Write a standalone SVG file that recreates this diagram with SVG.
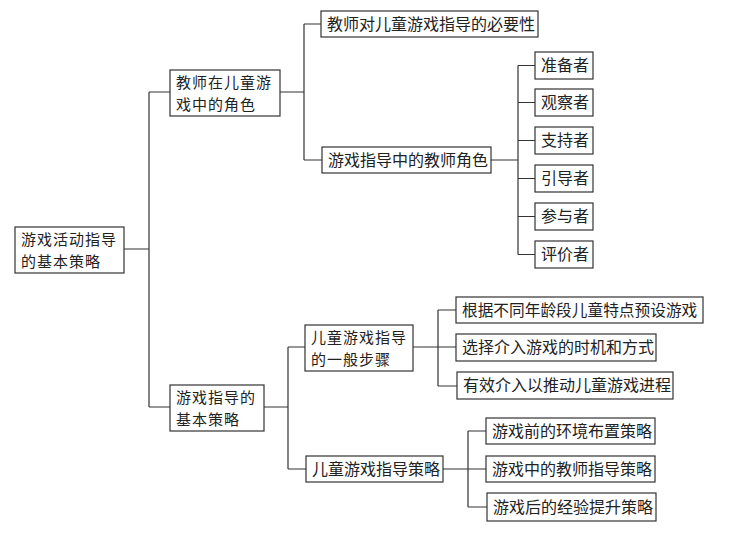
<svg xmlns="http://www.w3.org/2000/svg" width="736" height="537" viewBox="0 0 736 537">
<style>
.b{fill:#fff;stroke:#333;stroke-width:1.2}
.t{font-family:"Noto Sans CJK SC","Noto Sans",sans-serif;font-size:16px;fill:#222}
.m{font-size:15px;letter-spacing:1px}
.c{fill:none;stroke:#333;stroke-width:1.2}
</style>
<rect width="736" height="537" fill="#fff"/>
<g id="connectors">
<path class="c" d="M124,249H149M149,92V407M149,92H170M149,407H170"/>
<path class="c" d="M280,92H304M304,24V160M304,24H321M304,160H322"/>
<path class="c" d="M491,160H518M518,65.5V254.5M518,65.5H535M518,102.5H535M518,140.5H535M518,178.5H535M518,216.5H535M518,254.5H535"/>
<path class="c" d="M264,407H288M288,347V469M288,347H305M288,469H306"/>
<path class="c" d="M413,347H438M438,310V386M438,310H456M438,347H456M438,386H457"/>
<path class="c" d="M443,469H468M468,431V507M468,431H486M468,469H486M468,507H487"/>
</g>
<g id="root"><rect class="b" x="15" y="227" width="109" height="46"/><text class="t m" x="21" y="244.5">游戏活动指导</text><text class="t m" x="21" y="266.5">的基本策略</text></g>
<g id="n1"><rect class="b" x="170" y="70" width="110" height="46"/><text class="t m" x="176" y="87.5">教师在儿童游</text><text class="t m" x="176" y="109.5">戏中的角色</text></g>
<g id="n11"><rect class="b" x="321" y="11" width="217" height="26"/><text class="t" x="327" y="29.5">教师对儿童游戏指导的必要性</text></g>
<g id="n12"><rect class="b" x="322" y="147" width="169" height="26"/><text class="t" x="328" y="165.5">游戏指导中的教师角色</text></g>
<g id="l1"><rect class="b" x="535" y="52" width="58" height="27"/><text class="t" x="541" y="71">准备者</text></g>
<g id="l2"><rect class="b" x="535" y="89" width="58" height="27"/><text class="t" x="541" y="108">观察者</text></g>
<g id="l3"><rect class="b" x="535" y="127" width="58" height="27"/><text class="t" x="541" y="146">支持者</text></g>
<g id="l4"><rect class="b" x="535" y="165" width="58" height="27"/><text class="t" x="541" y="184">引导者</text></g>
<g id="l5"><rect class="b" x="535" y="203" width="58" height="27"/><text class="t" x="541" y="222">参与者</text></g>
<g id="l6"><rect class="b" x="535" y="241" width="58" height="27"/><text class="t" x="541" y="260">评价者</text></g>
<g id="n2"><rect class="b" x="170" y="385" width="94" height="46"/><text class="t m" x="176" y="402.5">游戏指导的</text><text class="t m" x="176" y="424.5">基本策略</text></g>
<g id="n21"><rect class="b" x="305" y="325" width="108" height="46"/><text class="t m" x="311" y="342.5">儿童游戏指导</text><text class="t m" x="311" y="364.5">的一般步骤</text></g>
<g id="n22"><rect class="b" x="306" y="456" width="137" height="26"/><text class="t" x="312" y="474.5">儿童游戏指导策略</text></g>
<g id="s1"><rect class="b" x="456" y="297" width="247" height="26"/><text class="t" x="462" y="315.5" style="font-size:15.7px">根据不同年龄段儿童特点预设游戏</text></g>
<g id="s2"><rect class="b" x="456" y="334" width="200" height="27"/><text class="t" x="462" y="353">选择介入游戏的时机和方式</text></g>
<g id="s3"><rect class="b" x="457" y="372" width="216" height="27"/><text class="t" x="463" y="391">有效介入以推动儿童游戏进程</text></g>
<g id="p1"><rect class="b" x="486" y="418" width="169" height="26"/><text class="t" x="492" y="436.5">游戏前的环境布置策略</text></g>
<g id="p2"><rect class="b" x="486" y="456" width="169" height="26"/><text class="t" x="492" y="474.5">游戏中的教师指导策略</text></g>
<g id="p3"><rect class="b" x="487" y="493" width="169" height="28"/><text class="t" x="493" y="512.5">游戏后的经验提升策略</text></g>
</svg>
